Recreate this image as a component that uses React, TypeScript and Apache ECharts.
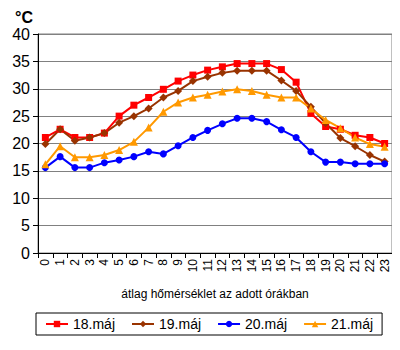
import React, { useEffect, useRef } from "react";
import * as echarts from "echarts";

const hours = ["0","1","2","3","4","5","6","7","8","9","10","11","12","13","14","15","16","17","18","19","20","21","22","23"];
const yTicks = [0, 5, 10, 15, 20, 25, 30, 35, 40];
const may18 = [21.1, 22.6, 21.1, 21.1, 21.9, 25.0, 27.0, 28.4, 29.9, 31.4, 32.5, 33.4, 34.0, 34.6, 34.6, 34.6, 33.5, 31.2, 25.5, 23.1, 22.6, 21.5, 21.1, 20.0];
const may19 = [19.9, 22.6, 20.5, 21.1, 21.9, 23.8, 25.0, 26.4, 28.4, 29.6, 31.4, 32.2, 32.9, 33.3, 33.3, 33.3, 31.5, 29.6, 26.7, 23.7, 21.0, 19.5, 17.9, 16.7];
const may20 = [15.6, 17.6, 15.6, 15.6, 16.5, 17.0, 17.6, 18.5, 18.1, 19.6, 21.1, 22.4, 23.6, 24.6, 24.6, 24.0, 22.5, 21.1, 18.5, 16.6, 16.6, 16.3, 16.3, 16.3];
const may21 = [16.2, 19.5, 17.5, 17.5, 17.9, 18.8, 20.3, 22.9, 25.8, 27.5, 28.4, 28.9, 29.5, 29.9, 29.6, 28.9, 28.4, 28.4, 26.4, 24.3, 22.8, 21.1, 19.9, 19.4];
const seriesNames = ["18.máj", "19.máj", "20.máj", "21.máj"];
const xAxisTitle = "átlag hőmérséklet az adott órákban";
const unitLabel = "°C";

const FONT = 'Arial, "Liberation Sans", sans-serif';

export default function App() {
  const ref = useRef<HTMLDivElement>(null);
  useEffect(() => {
    if (!ref.current) return;
    const chart = echarts.init(ref.current, undefined, { renderer: "svg" });
    const mk = (name: string, data: number[], color: string, symbol: string, size: number) => ({
      name,
      type: "line",
      data,
      color,
      symbol,
      symbolSize: size,
      lineStyle: { width: 2, color },
      itemStyle: { color },
    });
    chart.setOption({
      animation: false,
      backgroundColor: "#ffffff",
      textStyle: { fontFamily: FONT },
      graphic: [
        {
          type: "text",
          left: 15,
          top: 9,
          style: { text: unitLabel, font: `bold 16px ${FONT}`, fill: "#000" },
        },
      ],
      grid: {
        left: 38,
        right: 8,
        top: 34,
        bottom: 97,
        show: true,
        borderColor: "#808080",
        borderWidth: 1,
      },
      xAxis: {
        type: "category",
        data: hours,
        boundaryGap: true,
        name: xAxisTitle,
        nameLocation: "middle",
        nameGap: 35,
        nameTextStyle: { fontSize: 12, color: "#000", fontFamily: FONT },
        axisLine: { lineStyle: { color: "#000", width: 1 } },
        axisTick: { show: true, length: 5, lineStyle: { color: "#000" } },
        axisLabel: { rotate: 90, fontSize: 12, color: "#000", interval: 0, margin: 6, fontFamily: FONT },
      },
      yAxis: {
        type: "value",
        min: yTicks[0],
        max: yTicks[yTicks.length - 1],
        interval: 5,
        axisLine: { show: true, lineStyle: { color: "#000", width: 1 } },
        axisTick: { show: true, length: 5, lineStyle: { color: "#000" } },
        axisLabel: { fontSize: 16, color: "#000", margin: 8, fontFamily: FONT },
        splitLine: { show: true, lineStyle: { color: "#808080", width: 1 } },
      },
      legend: {
        data: seriesNames,
        bottom: 15,
        left: 36,
        orient: "horizontal",
        borderColor: "#000",
        borderWidth: 1,
        padding: [4, 9],
        itemWidth: 22,
        itemHeight: 8,
        itemGap: 16,
        textStyle: { fontSize: 14, color: "#000", fontFamily: FONT },
      },
      series: [
        mk(seriesNames[0], may18, "#ff0000", "rect", 7),
        mk(seriesNames[1], may19, "#993300", "diamond", 8),
        mk(seriesNames[2], may20, "#0000ff", "circle", 7),
        mk(seriesNames[3], may21, "#ff9900", "triangle", 8),
      ],
    });
    return () => chart.dispose();
  }, []);
  return <div ref={ref} style={{ width: 400, height: 350, margin: -8 }} />;
}
